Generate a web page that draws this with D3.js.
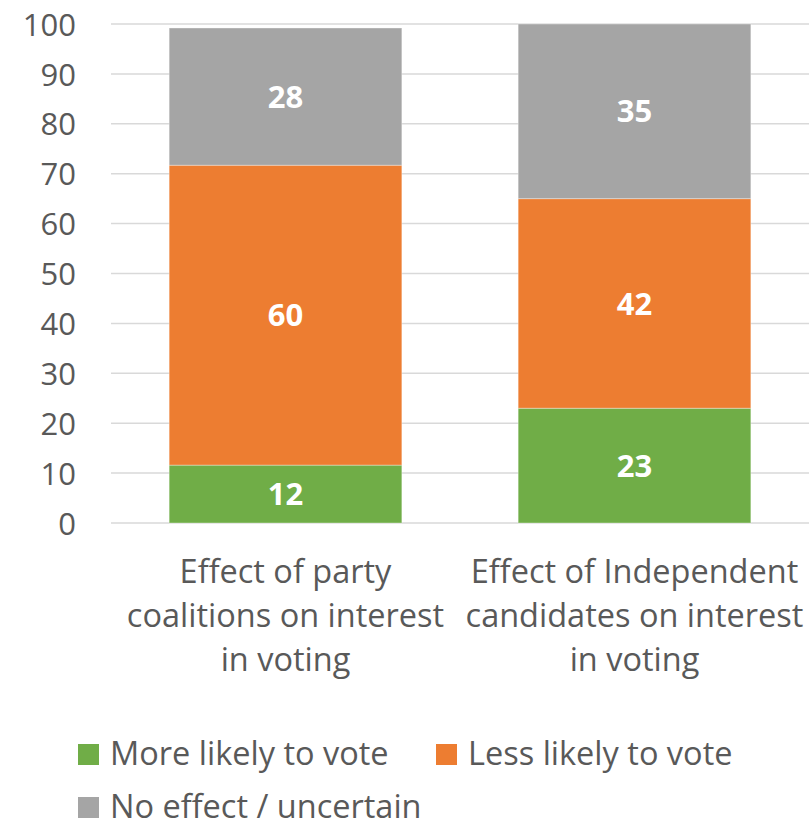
<!DOCTYPE html>
<html><head><meta charset="utf-8">
<script src="https://cdn.jsdelivr.net/npm/d3@7"></script>
<style>body{margin:0;background:#fff}</style>
</head><body>
<svg id="c" width="809" height="830"></svg>
<script>
const categories = [
  ["Effect of party", "coalitions on interest", "in voting"],
  ["Effect of Independent", "candidates on interest", "in voting"]
];
const seriesNames = ["More likely to vote", "Less likely to vote", "No effect / uncertain"];
const moreLikely = [11.6, 23];
const lessLikely = [60.1, 42];
const noEffect = [27.5, 35];
const yTicks = [0, 10, 20, 30, 40, 50, 60, 70, 80, 90, 100];
const colors = ["#70AD47", "#ED7D31", "#A5A5A5"];

const font = "'Open Sans', sans-serif";
const svg = d3.select("#c");
const x = d3.scaleBand().domain([0, 1]).range([111, 809]).paddingInner(1/3).paddingOuter(1/6);
const y = d3.scaleLinear().domain([0, 100]).range([523, 24]);

// gridlines
svg.append("g").selectAll("line").data(yTicks).join("line")
  .attr("x1", 111).attr("x2", 809)
  .attr("y1", d => y(d)).attr("y2", d => y(d))
  .attr("stroke", "#d9d9d9").attr("stroke-width", 1.5);

// y axis labels
const yAxis = d3.axisLeft(y).tickValues(yTicks).tickSize(0).tickPadding(0);
const ya = svg.append("g").attr("transform", "translate(76,0)").call(yAxis);
ya.select(".domain").remove();
ya.selectAll("text").attr("font-family", font).attr("font-size", 31).attr("fill", "#595959").attr("dy", "0.36em");

// stacked data
const rows = [0, 1].map(i => ({i, a: moreLikely[i], b: lessLikely[i], c: noEffect[i]}));
const stack = d3.stack().keys(["a", "b", "c"])(rows);

stack.forEach((layer, k) => {
  const g = svg.append("g");
  g.selectAll("rect").data(layer).join("rect")
    .attr("x", d => x(d.data.i)).attr("width", x.bandwidth())
    .attr("y", d => y(d[1])).attr("height", d => y(d[0]) - y(d[1]))
    .attr("fill", colors[k]).attr("stroke", "#ffffff").attr("stroke-opacity", 0.35).attr("stroke-width", 1);
  g.selectAll("text").data(layer).join("text")
    .attr("x", d => x(d.data.i) + x.bandwidth() / 2)
    .attr("y", d => (y(d[0]) + y(d[1])) / 2)
    .attr("dy", "0.36em").attr("text-anchor", "middle")
    .attr("font-family", font).attr("font-weight", "bold").attr("font-size", 31)
    .attr("fill", "#fff")
    .text(d => d3.format(".0f")(d[1] - d[0]));
});

// category labels
categories.forEach((lines, i) => {
  const t = svg.append("text").attr("text-anchor", "middle")
    .attr("font-family", font).attr("font-size", 32.5).attr("fill", "#595959");
  lines.forEach((l, j) => {
    t.append("tspan").attr("x", x(i) + x.bandwidth() / 2).attr("y", 583 + j * 44).text(l);
  });
});

// legend
const legendPos = [[78, 765], [436, 765], [78, 818]];
seriesNames.forEach((n, k) => {
  const g = svg.append("g").attr("transform", `translate(${legendPos[k][0]},${legendPos[k][1]})`);
  g.append("rect").attr("x", 0).attr("y", -21).attr("width", 21).attr("height", 21).attr("fill", colors[k]);
  g.append("text").attr("x", 32).attr("y", 0)
    .attr("font-family", font).attr("font-size", 32.5).attr("fill", "#595959").text(n);
});
</script>
</body></html>
